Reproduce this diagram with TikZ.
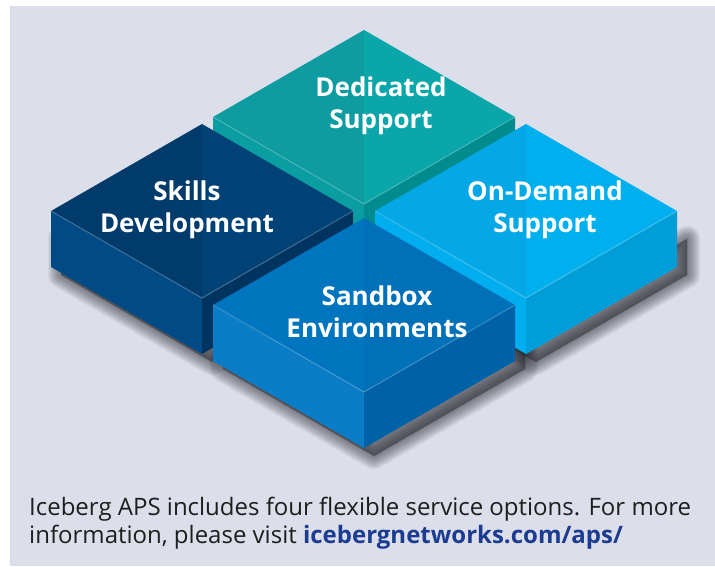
\documentclass[tikz,border=0pt]{standalone}
\usepackage{fontspec}
\setmainfont{Open Sans}
\usepackage{tikz}

\definecolor{panelgray}{RGB}{220,223,234}
\definecolor{shadowgray}{RGB}{40,40,48}
\definecolor{linkblue}{RGB}{27,60,145}
\definecolor{captiontext}{RGB}{30,30,30}
% dedicated support
\definecolor{tealtopl}{RGB}{14,156,160}
\definecolor{tealtopr}{RGB}{10,166,170}
\definecolor{tealleft}{RGB}{10,158,162}
\definecolor{tealright}{RGB}{0,140,142}
% skills development
\definecolor{navytopl}{RGB}{0,59,107}
\definecolor{navytopr}{RGB}{0,66,118}
\definecolor{navyleft}{RGB}{0,74,134}
\definecolor{navyright}{RGB}{0,52,96}
% on-demand support
\definecolor{skytopl}{RGB}{5,168,230}
\definecolor{skytopr}{RGB}{0,176,238}
\definecolor{skyleft}{RGB}{0,174,239}
\definecolor{skyright}{RGB}{0,158,216}
% sandbox environments
\definecolor{midtopl}{RGB}{0,117,191}
\definecolor{midtopr}{RGB}{0,112,184}
\definecolor{midleft}{RGB}{10,125,198}
\definecolor{midright}{RGB}{0,98,166}

\tikzset{
  blocklabel/.style={text=white, font=\bfseries\fontsize{26}{32}\selectfont, align=center},
  captionstyle/.style={text=captiontext, font=\fontsize{24}{28}\selectfont, align=left, anchor=base west, inner sep=0pt}
}

% block: #1 centre, #2 top left half, #3 top right half, #4 left face, #5 right face
\newcommand{\isoblock}[5]{%
  \fill[#4] (#1) ++(-151,0) -- ++(151,87) -- ++(0,56) -- ++(-151,-87) -- cycle;
  \fill[#5] (#1) ++(0,87) -- ++(151,-87) -- ++(0,56) -- ++(-151,87) -- cycle;
  \fill[#2] (#1) ++(0,-87) -- ++(-151,87) -- ++(151,87) -- cycle;
  \fill[#3] (#1) ++(0,-87) -- ++(151,87) -- ++(-151,87) -- cycle;
  \draw[white, opacity=0.18, line width=1.2pt] (#1) ++(-151,0) -- ++(151,87) -- ++(151,-87);
}
% soft shadow under the base of a block
\newcommand{\isoshadow}[1]{%
  \foreach \w in {1,...,12}
    \filldraw[shadowgray, opacity=0.055, line width=\w*2.2pt, line join=round]
      ([shift={(10,8)}]#1) ++(-151,20) -- ++(151,87) -- ++(151,-87) -- ++(0,36) -- ++(-151,87) -- ++(-151,-87) -- cycle;
}

\begin{document}
\begin{tikzpicture}[x=1pt, y=-1pt]
    \useasboundingbox (0,0) rectangle (715,566);
    \fill[white] (0,0) rectangle (715,566);
    \fill[panelgray] (10,6) rectangle (715,566);

    \coordinate (dedicated) at (364,117);
    \coordinate (skills) at (202,211);
    \coordinate (ondemand) at (526,211);
    \coordinate (sandbox) at (364,305);

    \foreach \b in {dedicated, skills, ondemand, sandbox}
        \isoshadow{\b};

    \isoblock{dedicated}{tealtopl}{tealtopr}{tealleft}{tealright}
    \isoblock{skills}{navytopl}{navytopr}{navyleft}{navyright}
    \isoblock{ondemand}{skytopl}{skytopr}{skyleft}{skyright}
    \isoblock{sandbox}{midtopl}{midtopr}{midleft}{midright}

    \node[blocklabel] (dedicatedlbl) at (381,106) {Dedicated\\Support};
    \node[blocklabel] (skillslbl) at (187,210) {Skills\\Development};
    \node[blocklabel] (ondemandlbl) at (545,210) {On-Demand\\Support};
    \node[blocklabel] (sandboxlbl) at (377,312) {Sandbox\\Environments};

    \node[captionstyle] (caption) at (29,543)
        {Iceberg APS includes four flexible service options. For more\\
         information, please visit {\bfseries\color{linkblue}icebergnetworks.com/aps/}};
\end{tikzpicture}
\end{document}
